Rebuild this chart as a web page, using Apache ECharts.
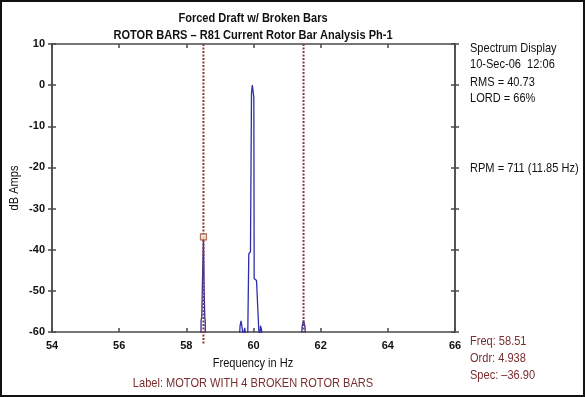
<!DOCTYPE html>
<html>
<head>
<meta charset="utf-8">
<script src="https://cdn.jsdelivr.net/npm/echarts@6/dist/echarts.min.js"></script>
<style>
html,body{margin:0;padding:0;background:#fff;}
#chart{width:585px;height:397px;}
</style>
</head>
<body>
<div id="chart"></div>
<script>
// ---- data ----
const titleLines = ['Forced Draft w/ Broken Bars', 'ROTOR BARS \u2013 R81 Current Rotor Bar Analysis Ph-1'];
const xTicks = [54, 56, 58, 60, 62, 64, 66];
const yTicks = [-60, -50, -40, -30, -20, -10, 0, 10];
const spectrumHz = [
  58.30, 58.43, 58.44, 58.46, 58.48, 58.51, 58.53, 58.55, 58.56, 58.58,
  59.55, 59.60, 59.63, 59.67, 59.70, 59.74, 59.77, 59.80,
  59.83, 59.86, 59.91, 59.94, 59.965, 60.01, 60.02, 60.09, 60.16, 60.18,
  60.21, 60.24, 60.27,
  61.40, 61.45, 61.49, 61.53, 61.58, 61.70
];
const spectrumDb = [
  -66, -66, -57, -56.5, -48, -36.9, -50, -56.5, -57, -66,
  -66, -58.5, -57.3, -59.5, -61, -59, -61.5, -66,
  -60, -41, -40.5, -2, 0, -3, -47, -47.5, -60, -62,
  -58.5, -59.5, -66,
  -66, -58.5, -57.2, -58.5, -66, -66
];
const cursorHz = [58.51, 61.49];       // dashed cursor / sideband lines
const cursorBottomDb = [-63, -60];
const cursorPoint = [58.51, -36.9];
const infoTop = ['Spectrum Display', '10-Sec-06  12:06', 'RMS = 40.73', 'LORD = 66%'];
const infoRpm = 'RPM = 711 (11.85 Hz)';
const infoCursor = ['Freq: 58.51', 'Ordr: 4.938', 'Spec: \u201336.90'];
const xName = 'Frequency in Hz';
const yName = 'dB Amps';
const bottomLabel = 'Label: MOTOR WITH 4 BROKEN ROTOR BARS';

// ---- chart ----
const FONT = '"Liberation Sans", Arial, sans-serif';
const AX = '#4a4a4a';
const RED = '#7a2e2e';
const SX = 0.85;
const spectrum = spectrumHz.map((h, i) => [h, spectrumDb[i]]);

function yAx(pos, inside, labels) {
  return {
    type: 'value', position: pos, min: -60, max: 10, interval: 10,
    axisLine: {show: true, onZero: false, lineStyle: {color: AX, width: 1.5}},
    axisTick: {show: true, inside: inside, length: 4, lineStyle: {color: AX, width: 1.5}},
    axisLabel: {show: labels, fontFamily: FONT, fontWeight: 'bold', fontSize: 11, color: '#111', margin: 7},
    splitLine: {show: false}
  };
}
function xAx(pos, labels) {
  return {
    type: 'value', position: pos, min: 54, max: 66, interval: 2,
    axisLine: {show: true, onZero: false, lineStyle: {color: AX, width: 1.5}},
    axisTick: {show: true, inside: true, length: 4, lineStyle: {color: AX, width: 1.5}},
    axisLabel: {show: labels, fontFamily: FONT, fontWeight: 'bold', fontSize: 11, color: '#111', margin: 8,
      formatter: v => xTicks.includes(v) ? String(v) : ''},
    splitLine: {show: false}
  };
}

const txt = (s, x, y, opts) => ({
  type: 'text', x: x, y: y, scaleX: SX,
  style: Object.assign({text: s, font: '13px ' + FONT, fill: '#111', textVerticalAlign: 'middle'}, opts || {})
});

const graphics = [
  {type: 'rect', shape: {x: 1, y: 1, width: 583, height: 395}, style: {fill: 'none', stroke: '#111', lineWidth: 2}},
  txt(titleLines[0], 253, 18, {textAlign: 'center', font: 'bold 13px ' + FONT}),
  txt(titleLines[1], 253, 35, {textAlign: 'center', font: 'bold 13px ' + FONT}),
  txt(infoTop[0], 470, 48),
  txt(infoTop[1], 470, 64),
  txt(infoTop[2], 470, 82),
  txt(infoTop[3], 470, 98),
  txt(infoRpm, 470, 168),
  txt(infoCursor[0], 470, 341, {fill: RED}),
  txt(infoCursor[1], 470, 358, {fill: RED}),
  txt(infoCursor[2], 470, 375, {fill: RED}),
  txt(xName, 253, 363, {textAlign: 'center'}),
  txt(bottomLabel, 253, 383, {textAlign: 'center', fill: RED}),
  {type: 'text', x: 14, y: 188, rotation: Math.PI / 2, scaleX: SX,
   style: {text: yName, font: '13px ' + FONT, fill: '#111', textAlign: 'center', textVerticalAlign: 'middle'}}
];

const chart = echarts.init(document.getElementById('chart'), null, {renderer: 'canvas'});
chart.setOption({
  backgroundColor: '#fff',
  animation: false,
  grid: {left: 52, right: 130, top: 44, bottom: 65},
  xAxis: [xAx('bottom', true), xAx('top', false)],
  yAxis: [yAx('left', false, true), yAx('left', true, false), yAx('right', true, false), yAx('right', false, false)],
  graphic: graphics,
  series: [
    {
      type: 'line', xAxisIndex: 0, yAxisIndex: 0, data: spectrum, showSymbol: false, clip: true,
      lineStyle: {color: '#2e2ea8', width: 1.3}, z: 3
    },
    ...cursorHz.map((h, i) => ({
      type: 'line', xAxisIndex: 0, yAxisIndex: 0, clip: false, showSymbol: false,
      data: [[h, 10], [h, cursorBottomDb[i]]],
      lineStyle: {color: '#8b3a3a', width: 2, type: [2, 1.5]}, z: 4
    })),
    {
      type: 'scatter', xAxisIndex: 0, yAxisIndex: 0, data: [cursorPoint], symbol: 'rect', symbolSize: 6,
      itemStyle: {color: '#f4e4d8', borderColor: '#9a4a2a', borderWidth: 1.2}, z: 5
    }
  ]
});
</script>
</body>
</html>
